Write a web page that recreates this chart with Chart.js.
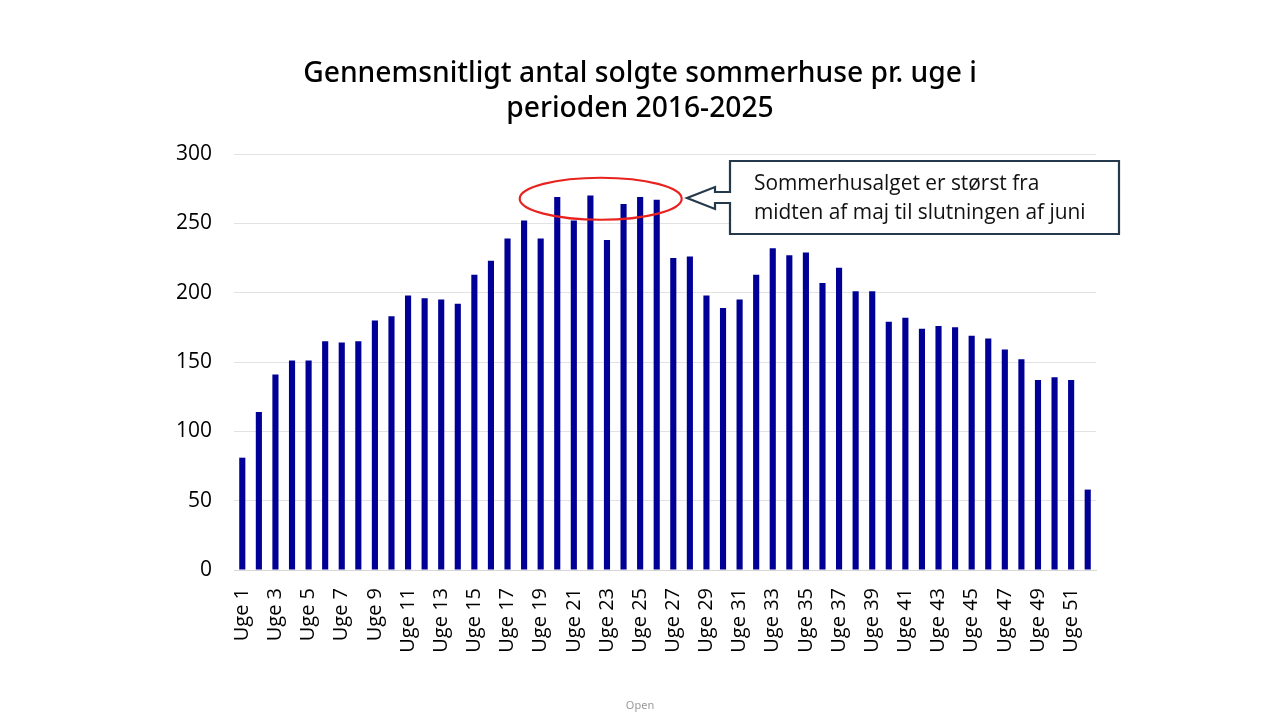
<!DOCTYPE html>
<html>
<head>
<meta charset="utf-8">
<script src="https://cdn.jsdelivr.net/npm/chart.js@4.4.0/dist/chart.umd.min.js"></script>
<style>
  html, body { margin: 0; padding: 0; background: #ffffff; }
  #wrap { width: 1280px; height: 720px; position: relative; }
</style>
</head>
<body>
<div id="wrap"><canvas id="c" width="1280" height="720"></canvas></div>
<script>
const categories = ["Uge 1","Uge 2","Uge 3","Uge 4","Uge 5","Uge 6","Uge 7","Uge 8","Uge 9","Uge 10",
  "Uge 11","Uge 12","Uge 13","Uge 14","Uge 15","Uge 16","Uge 17","Uge 18","Uge 19","Uge 20",
  "Uge 21","Uge 22","Uge 23","Uge 24","Uge 25","Uge 26","Uge 27","Uge 28","Uge 29","Uge 30",
  "Uge 31","Uge 32","Uge 33","Uge 34","Uge 35","Uge 36","Uge 37","Uge 38","Uge 39","Uge 40",
  "Uge 41","Uge 42","Uge 43","Uge 44","Uge 45","Uge 46","Uge 47","Uge 48","Uge 49","Uge 50",
  "Uge 51","Uge 52"];
const salesPerWeek = [81,114,141,151,151,165,164,165,180,183,
  198,196,195,192,213,223,239,252,239,269,
  252,270,238,264,269,267,225,226,198,189,
  195,213,232,227,229,207,218,201,201,179,
  182,174,176,175,169,167,159,152,137,139,
  137,58];
const yTicks = [0,50,100,150,200,250,300];
const titleLines = ["Gennemsnitligt antal solgte sommerhuse pr. uge i", "perioden 2016-2025"];
const noteLines = ["Sommerhusalget er størst fra", "midten af maj til slutningen af juni"];
const footerText = "Open";

function fitFont(ctx, text, targetW, weight, family) {
  let size = 20;
  ctx.font = weight + " " + size + "px " + family;
  const w = ctx.measureText(text).width;
  return size * targetW / w;
}

const decor = {
  id: 'decor',
  afterDraw(chart) {
    const ctx = chart.ctx;
    ctx.save();
    // Title
    const tfam = "'Noto Sans', sans-serif";
    const ts = fitFont(ctx, titleLines[0], 674, "500", tfam);
    ctx.font = "500 " + ts + "px " + tfam;
    ctx.fillStyle = "#000000";
    ctx.textAlign = "center";
    ctx.textBaseline = "alphabetic";
    ctx.fillText(titleLines[0], 640, 82);
    ctx.fillText(titleLines[1], 640, 117);

    // Red ellipse around peak weeks
    const xs = chart.scales.x, ys = chart.scales.y;
    const cx = (xs.getPixelForValue(18) + xs.getPixelForValue(25)) / 2 + 2;
    const cy = ys.getPixelForValue(267);
    ctx.beginPath();
    ctx.ellipse(cx, cy - 1, 81, 21, 0, 0, Math.PI * 2);
    ctx.strokeStyle = "#e8231f";
    ctx.lineWidth = 2.2;
    ctx.stroke();

    // Callout box with arrow
    const bl = 730, bt = 161, br = 1119, bb = 234;
    ctx.beginPath();
    ctx.moveTo(bl, 192);
    ctx.lineTo(bl, bt);
    ctx.lineTo(br, bt);
    ctx.lineTo(br, bb);
    ctx.lineTo(bl, bb);
    ctx.lineTo(bl, 203);
    ctx.lineTo(715, 203);
    ctx.lineTo(715, 209);
    ctx.lineTo(687, 198);
    ctx.lineTo(715, 187);
    ctx.lineTo(715, 192);
    ctx.closePath();
    ctx.fillStyle = "#ffffff";
    ctx.fill();
    ctx.strokeStyle = "#24394b";
    ctx.lineWidth = 2.2;
    ctx.lineJoin = "miter";
    ctx.stroke();

    const nfam = "'Open Sans', sans-serif";
    const ns = fitFont(ctx, noteLines[1], 332, "400", nfam);
    ctx.font = "400 " + ns + "px " + nfam;
    ctx.fillStyle = "#111111";
    ctx.textAlign = "left";
    ctx.fillText(noteLines[0], 754, 190);
    ctx.fillText(noteLines[1], 754, 219);

    // Footer
    ctx.font = "400 11px 'Noto Sans', sans-serif";
    ctx.fillStyle = "#9a9a9a";
    ctx.textAlign = "center";
    ctx.fillText(footerText, 640, 709);
    ctx.restore();
  }
};

new Chart(document.getElementById('c'), {
  type: 'bar',
  data: {
    labels: categories,
    datasets: [{
      data: salesPerWeek,
      backgroundColor: '#000096',
      borderWidth: 0,
      barPercentage: 0.37,
      categoryPercentage: 1.0
    }]
  },
  options: {
    responsive: false,
    devicePixelRatio: 1,
    animation: false,
    layout: { padding: { left: 0, right: 184, top: 154, bottom: 0 } },
    plugins: { legend: { display: false }, tooltip: { enabled: false }, title: { display: false } },
    scales: {
      x: {
        grid: { display: false, drawTicks: false },
        border: { display: true, color: '#d6d6d6', width: 1 },
        ticks: {
          autoSkip: false,
          maxRotation: 90,
          minRotation: 90,
          padding: 18,
          color: '#000000',
          font: { family: "'Open Sans', sans-serif", size: 20 },
          callback: function(v, i) { return i % 2 === 0 ? categories[i] : ''; }
        },
        afterFit(scale) { scale.height = 150; }
      },
      y: {
        min: 0, max: 300,
        afterBuildTicks(scale) { scale.ticks = yTicks.map(v => ({ value: v })); },
        grid: { color: '#e2e2e2', lineWidth: 1, drawTicks: false },
        border: { display: false },
        ticks: {
          padding: 22,
          color: '#000000',
          font: { family: "'Open Sans', sans-serif", size: 21 }
        },
        afterFit(scale) { scale.width = 234; }
      }
    }
  },
  plugins: [decor]
});
</script>
</body>
</html>
